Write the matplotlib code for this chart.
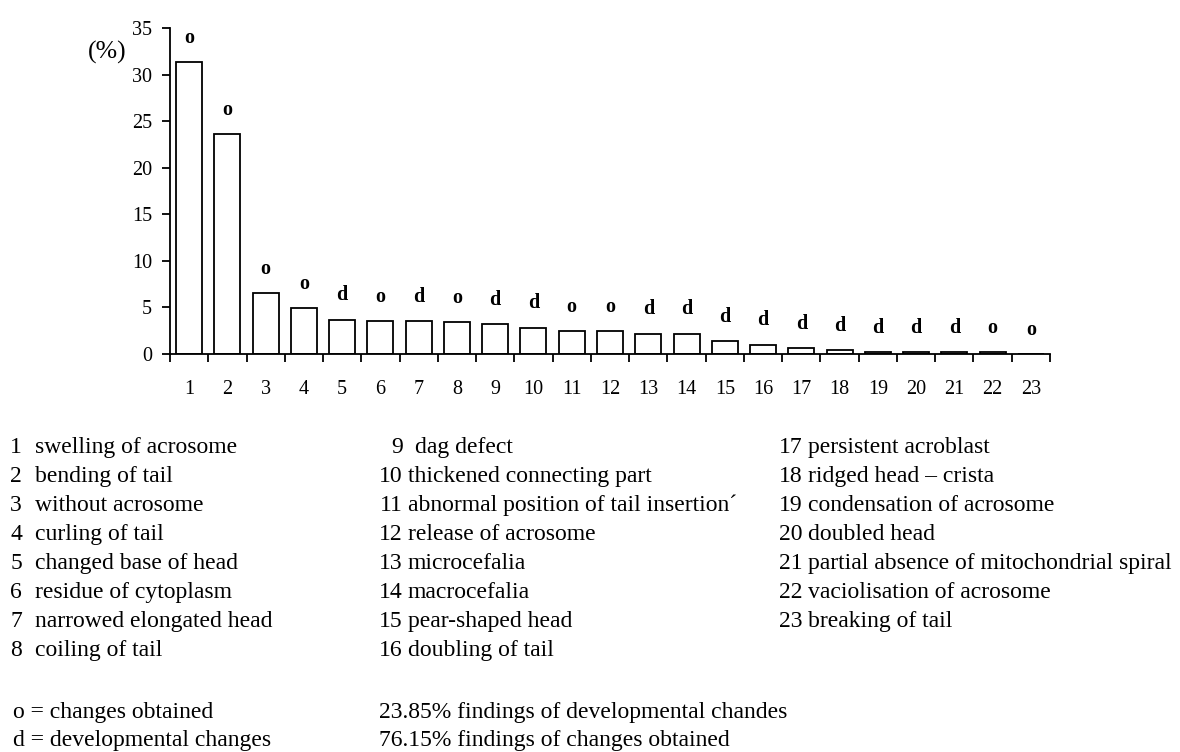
import matplotlib
matplotlib.use("Agg")
import matplotlib.pyplot as plt

plt.rcParams['font.family'] = ['Liberation Serif', 'DejaVu Serif']

categories = list(range(1, 24))
values = [31.3, 23.6, 6.5, 4.9, 3.7, 3.5, 3.5, 3.4, 3.2, 2.8, 2.45, 2.45,
          2.2, 2.2, 1.4, 1.0, 0.6, 0.4, 0.2, 0.2, 0.2, 0.2, 0.0]
change_type = ['o', 'o', 'o', 'o', 'd', 'o', 'd', 'o', 'd', 'd', 'o', 'o',
               'd', 'd', 'd', 'd', 'd', 'd', 'd', 'd', 'd', 'o', 'o']
descriptions = [
    "swelling of acrosome", "bending of tail", "without acrosome",
    "curling of tail", "changed base of head", "residue of cytoplasm",
    "narrowed elongated head", "coiling of tail", "dag defect",
    "thickened connecting part", "abnormal position of tail insertion\u00b4",
    "release of acrosome", "microcefalia", "macrocefalia",
    "pear-shaped head", "doubling of tail", "persistent acroblast",
    "ridged head \u2013 crista", "condensation of acrosome", "doubled head",
    "partial absence of mitochondrial spiral", "vaciolisation of acrosome",
    "breaking of tail",
]
key_lines = ["o = changes obtained", "d = developmental changes"]
summary_lines = ["23.85% findings of developmental chandes",
                 "76.15% findings of changes obtained"]

W, H = 1180, 752
fig = plt.figure(figsize=(W / 100, H / 100), dpi=100)
ax = fig.add_axes([170 / W, 1 - 354 / H, (1050 - 170) / W, (354 - 28) / H])

ax.bar(categories, values, width=0.68, color='white', edgecolor='black', linewidth=1.3)
for x, v, t in zip(categories, values, change_type):
    ax.annotate(t, (x, v), xytext=(0, 14), textcoords='offset points',
                ha='center', va='baseline', fontsize=14.5, fontweight='bold')

ax.set_xlim(0.5, 23.5)
ax.set_ylim(0, 35)
ax.set_yticks(range(0, 36, 5))
ax.tick_params(axis='y', direction='out', length=6, width=1.3, labelsize=14.5, pad=7)
# x ticks sit between the bars, labels at bar centres
ax.set_xticks([c - 0.5 for c in categories] + [23.5])
ax.set_xticklabels([])
ax.set_xticks(categories, minor=True)
ax.set_xticklabels([str(c) for c in categories], minor=True, fontsize=14.5)
ax.tick_params(axis='x', which='major', direction='out', length=6, width=1.3)
ax.tick_params(axis='x', which='minor', length=0, pad=19)
for s in ['top', 'right']:
    ax.spines[s].set_visible(False)
for s in ['left', 'bottom']:
    ax.spines[s].set_linewidth(1.3)

fig.text(88 / W, 1 - 52 / H, "(%)", fontsize=18.5, va='center', ha='left')

# legend of categories in three columns
col_num_x = [22, 403, 803]
col_txt_x = [35, 408, 808]
row_y0, row_dy = 453, 29
for i, desc in enumerate(descriptions):
    col = 0 if i < 8 else (1 if i < 16 else 2)
    row = i - [0, 8, 16][col]
    y = 1 - (row_y0 + row * row_dy) / H
    fig.text(col_num_x[col] / W, y, str(i + 1), ha='right', va='baseline', fontsize=17)
    fig.text(col_txt_x[col] / W + (0.006 if i == 8 else 0), y, desc,
             ha='left', va='baseline', fontsize=17)

for k, line in enumerate(key_lines):
    fig.text(13 / W, 1 - (718 + k * 28) / H, line, ha='left', va='baseline', fontsize=17)
for k, line in enumerate(summary_lines):
    fig.text(379 / W, 1 - (718 + k * 28) / H, line, ha='left', va='baseline', fontsize=17)

fig.savefig("out.png", dpi=100)
